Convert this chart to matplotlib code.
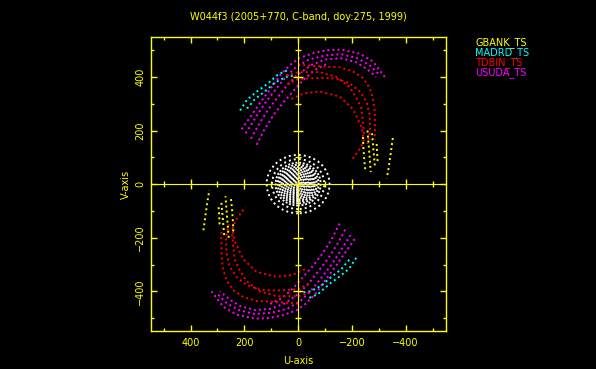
import matplotlib
matplotlib.use("Agg")
import matplotlib.pyplot as plt
from matplotlib.patches import Ellipse
from matplotlib.ticker import MultipleLocator

title = "W044f3 (2005+770, C-band, doy:275, 1999)"

# space baseline tracks, one half of the uv-plane only (u, v) -- the other half
# is the conjugate (-u, -v)
gbank_tracks = [
    [(-241, 176), (-243, 130), (-246, 90), (-250, 50)],
    [(-258, 200), (-262, 150), (-266, 100), (-270, 45)],
    [(-275, 190), (-279, 140), (-283, 95), (-286, 60)],
    [(-292, 150), (-294, 110), (-296, 80)],
    [(-352, 172), (-345, 120), (-338, 70), (-330, 22)],
]
madrd_tracks = [
    [(216, 275), (190, 315), (154, 345), (117, 372), (74, 410), (40, 425)],
    [(190, 282), (160, 318), (125, 345), (85, 380), (45, 400), (20, 404)],
]
tdbin_tracks = [
    [(25, 318), (-20, 338), (-80, 346), (-155, 327), (-204, 280),
     (-235, 215), (-244, 166), (-232, 135), (-196, 85)],
    [(40, 372), (0, 392), (-80, 397), (-142, 394), (-192, 376), (-229, 346),
     (-254, 309), (-266, 259), (-268, 200), (-258, 150)],
    [(45, 405), (0, 418), (-80, 418), (-142, 400), (-192, 362), (-217, 321),
     (-235, 284), (-241, 234), (-245, 190), (-240, 160)],
    [(0, 446), (-80, 440), (-155, 436), (-204, 421), (-241, 396), (-266, 359),
     (-278, 321), (-285, 271), (-285, 222), (-285, 166)],
]
usuda_tracks = [
    [(210, 205), (175, 255), (142, 303), (100, 360), (68, 405), (30, 445),
     (-6, 471), (-60, 490), (-110, 500), (-160, 502), (-229, 487),
     (-278, 458), (-322, 400)],
    [(195, 190), (160, 245), (125, 300), (90, 345), (50, 395), (10, 435),
     (-40, 465), (-100, 480), (-160, 485), (-220, 470), (-265, 445),
     (-305, 405)],
    [(175, 170), (145, 225), (110, 280), (75, 325), (40, 370), (0, 410),
     (-50, 445), (-100, 465), (-160, 470), (-215, 455), (-255, 430),
     (-290, 400)],
    [(154, 147), (125, 205), (90, 260), (55, 305), (20, 345), (-20, 390),
     (-60, 425), (-110, 450)],
]
# ground baselines: near-circular tracks round the origin (semi-axes u, v)
ground_u = [117, 97, 84, 76, 69, 62, 56, 50, 44, 38, 32, 26, 20, 14, 8]
ground_v = [109, 93, 80, 72, 65, 59, 53, 47, 41, 36, 30, 24, 19, 13, 7]

stations = ["GBANK_TS", "MADRD_TS", "TDBIN_TS", "USUDA_TS"]
colors = ["#ffff00", "#00ffff", "#ff0000", "#ff00ff"]
ticks = [-400, -200, 0, 200, 400]

fg = "#ffff00"

fig = plt.figure(figsize=(5.96, 3.69), dpi=100, facecolor="black")
ax = fig.add_axes([0.2529, 0.1030, 0.4946, 0.7959], facecolor="black")
lim = 548

# ground baselines in white
for i, (a, b) in enumerate(zip(ground_u, ground_v)):
    gap = 1.6 if i < 2 else 0.9
    ax.add_patch(Ellipse((0, 0), 2 * a, 2 * b, fill=False, ec="white",
                         lw=1.4, ls=(0, (1, gap))))

dots = (0, (1, 1.6))
all_tracks = [usuda_tracks, madrd_tracks, tdbin_tracks, gbank_tracks]
track_colors = [colors[3], colors[1], colors[2], colors[0]]
for tracks, c in zip(all_tracks, track_colors):
    for tr in tracks:
        u = [p[0] for p in tr]
        v = [p[1] for p in tr]
        ax.plot(u, v, color=c, lw=1.4, ls=dots)
        ax.plot([-x for x in u], [-y for y in v], color=c, lw=1.4, ls=dots)

ax.set_xlim(lim, -lim)
ax.set_ylim(-lim, lim)
ax.set_xticks(ticks)
ax.set_yticks(ticks)
ax.xaxis.set_minor_locator(MultipleLocator(100))
ax.yaxis.set_minor_locator(MultipleLocator(100))
for s in ax.spines.values():
    s.set_color(fg)
    s.set_linewidth(1.0)
ax.tick_params(which="both", direction="in", colors=fg, top=True, right=True,
               labelsize=7, width=1.0)
ax.tick_params(which="major", length=4.5, pad=5)
ax.tick_params(which="minor", length=2.2)
ax.tick_params(axis="y", labelrotation=90, pad=4)
for lab in ax.get_yticklabels():
    lab.set_va("center")
ax.set_xlabel("U-axis", color=fg, fontsize=7, labelpad=6)
ax.set_ylabel("V-axis", color=fg, fontsize=7, labelpad=3)

# axes through the origin
ax2 = fig.add_axes(ax.get_position(), facecolor="none")
ax2.set_xlim(lim, -lim)
ax2.set_ylim(-lim, lim)
ax2.spines["top"].set_visible(False)
ax2.spines["right"].set_visible(False)
ax2.spines["left"].set_position(("data", 0))
ax2.spines["bottom"].set_position(("data", 0))
ax2.spines["left"].set_color(fg)
ax2.spines["bottom"].set_color(fg)
ax2.set_xticks(ticks)
ax2.set_yticks(ticks)
ax2.xaxis.set_minor_locator(MultipleLocator(100))
ax2.yaxis.set_minor_locator(MultipleLocator(100))
ax2.tick_params(which="both", direction="inout", colors=fg, labelleft=False,
                labelbottom=False, width=1.0)
ax2.tick_params(which="major", length=7)
ax2.tick_params(which="minor", length=4.3)

fig.text(0.5, 0.953, title, color=fg, fontsize=7, ha="center", va="center")
for i, (name, c) in enumerate(zip(stations, colors)):
    fig.text(0.797, 0.885 - i * 0.0275, name, color=c, fontsize=7,
             ha="left", va="center")

fig.savefig("out.png", dpi=100, facecolor="black")
